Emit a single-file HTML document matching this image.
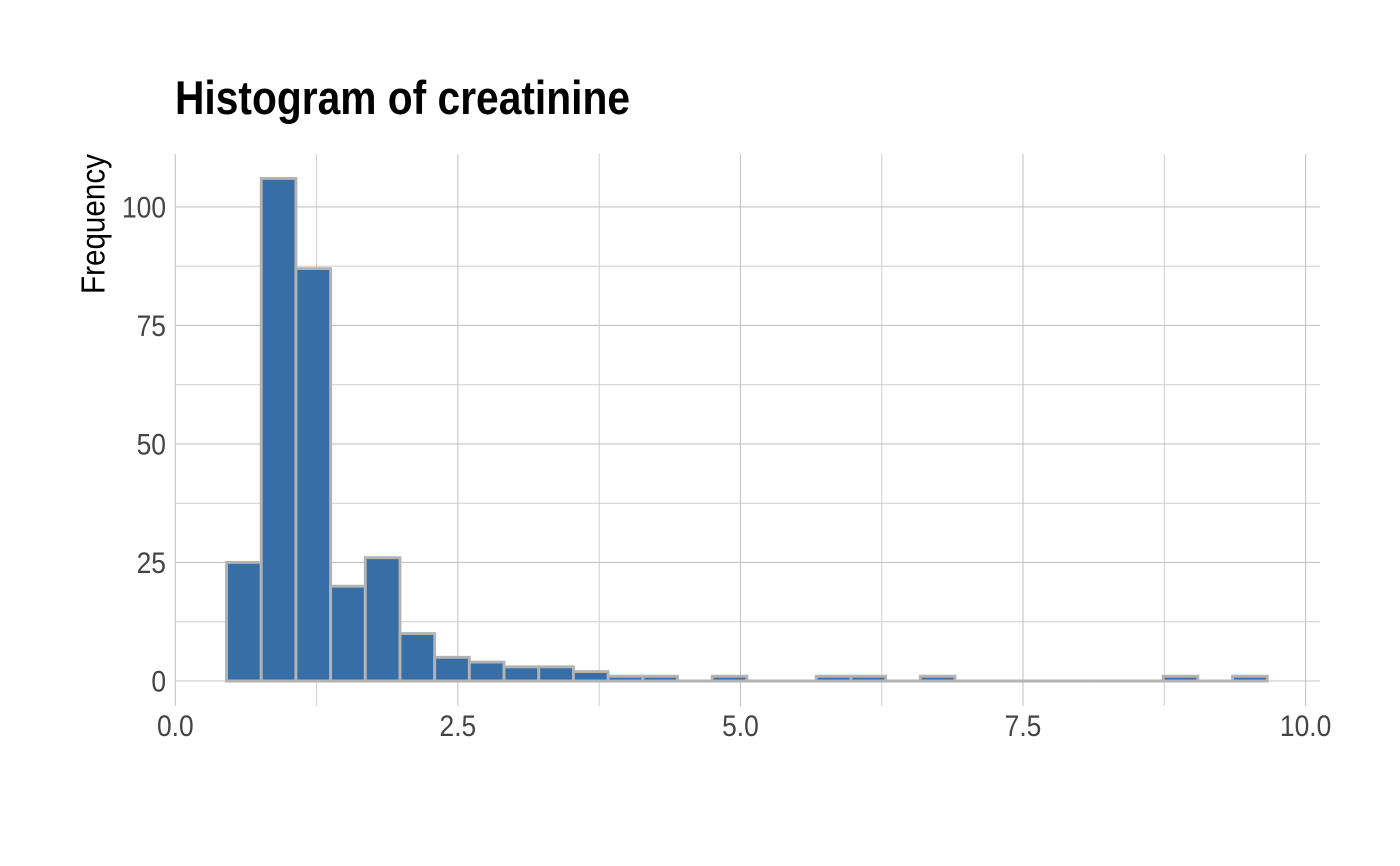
<!DOCTYPE html>
<html lang="en">
<head>
<meta charset="utf-8">
<title>Histogram of creatinine</title>
<style>
html,body{margin:0;padding:0;background:#fff;width:1400px;height:866px;overflow:hidden}
svg{display:block}
text{font-family:"Liberation Sans",sans-serif}
</style>
</head>
<body>
<svg id="chart" xmlns="http://www.w3.org/2000/svg" width="1400" height="866" viewBox="0 0 1400 866">
<rect x="0" y="0" width="1400" height="866" fill="#ffffff"/>
<g id="grid"></g>
<g id="bars"></g>
<g id="xticks"></g>
<g id="yticks"></g>
<text x="175" y="114" font-size="47" font-weight="700" fill="#000000" textLength="455" lengthAdjust="spacingAndGlyphs">Histogram of creatinine</text>
<text transform="translate(104.5,294) rotate(-90)" font-size="33" fill="#000000" textLength="140" lengthAdjust="spacingAndGlyphs">Frequency</text>
</svg>
<script>
const counts = [25,106,87,20,26,10,5,4,3,3,2,1,1,0,1,0,0,1,1,0,1,0,0,0,0,0,0,1,0,1];
const binStart = 0.4534;
const binWidth = 0.3069;
const xTickValues = [0, 2.5, 5, 7.5, 10];
const xTickLabels = ['0.0', '2.5', '5.0', '7.5', '10.0'];
const xMinorValues = [1.25, 3.75, 6.25, 8.75];
const yTickValues = [0, 25, 50, 75, 100];
const yTickLabels = ['0', '25', '50', '75', '100'];
const yMinorValues = [12.5, 37.5, 62.5, 87.5];

const SVG_NS = 'http://www.w3.org/2000/svg';
function xScale(v) { return 175.3 + v * 113.03; }
function yScale(v) { return 681 - v * 4.741; }
const panel = { left: 175.3, right: 1320, top: 154, bottom: 706 };
const labelSqueeze = 0.88;

function make(tag, attrs, parent) {
  const el = document.createElementNS(SVG_NS, tag);
  for (const k in attrs) el.setAttribute(k, attrs[k]);
  parent.appendChild(el);
  return el;
}

const grid = document.getElementById('grid');
const bars = document.getElementById('bars');
const xticks = document.getElementById('xticks');
const yticks = document.getElementById('yticks');

yMinorValues.forEach(function (v) {
  const el = make('line', { x1: panel.left, x2: panel.right, y1: yScale(v), y2: yScale(v), stroke: '#cfcfcf', 'stroke-width': 1 }, grid);
  
  
});
xMinorValues.forEach(function (v) {
  const el = make('line', { x1: xScale(v), x2: xScale(v), y1: panel.top, y2: panel.bottom, stroke: '#cfcfcf', 'stroke-width': 1 }, grid);
  
  
});
yTickValues.forEach(function (v) {
  const el = make('line', { x1: panel.left, x2: panel.right, y1: yScale(v), y2: yScale(v), stroke: '#c4c4c4', 'stroke-width': 1.1 }, grid);
  
  
});
xTickValues.forEach(function (v) {
  const el = make('line', { x1: xScale(v), x2: xScale(v), y1: panel.top, y2: panel.bottom, stroke: '#c4c4c4', 'stroke-width': 1.1 }, grid);
  
  
});

counts.forEach(function (c, i) {
  const x0 = xScale(binStart + i * binWidth);
  const x1 = xScale(binStart + (i + 1) * binWidth);
  const d = 'M' + x0 + ' ' + yScale(0) + 'H' + x1 + 'V' + yScale(c) + 'H' + x0 + 'Z';
  const el = make('path', { d: d, fill: '#386ea6', stroke: '#b3b3b3', 'stroke-width': 2.9 }, bars);
  
  
});

xTickValues.forEach(function (v, i) {
  const el = make('text', { transform: 'translate(' + xScale(v) + ',736) scale(' + labelSqueeze + ',1)', 'font-size': 30, fill: '#444444', 'text-anchor': 'middle' }, xticks);
  el.textContent = xTickLabels[i];
  
  
});
yTickValues.forEach(function (v, i) {
  const el = make('text', { transform: 'translate(166,' + (yScale(v) + 10.5) + ') scale(' + labelSqueeze + ',1)', 'font-size': 30, fill: '#444444', 'text-anchor': 'end' }, yticks);
  el.textContent = yTickLabels[i];
  
  
});
</script>
</body>
</html>
